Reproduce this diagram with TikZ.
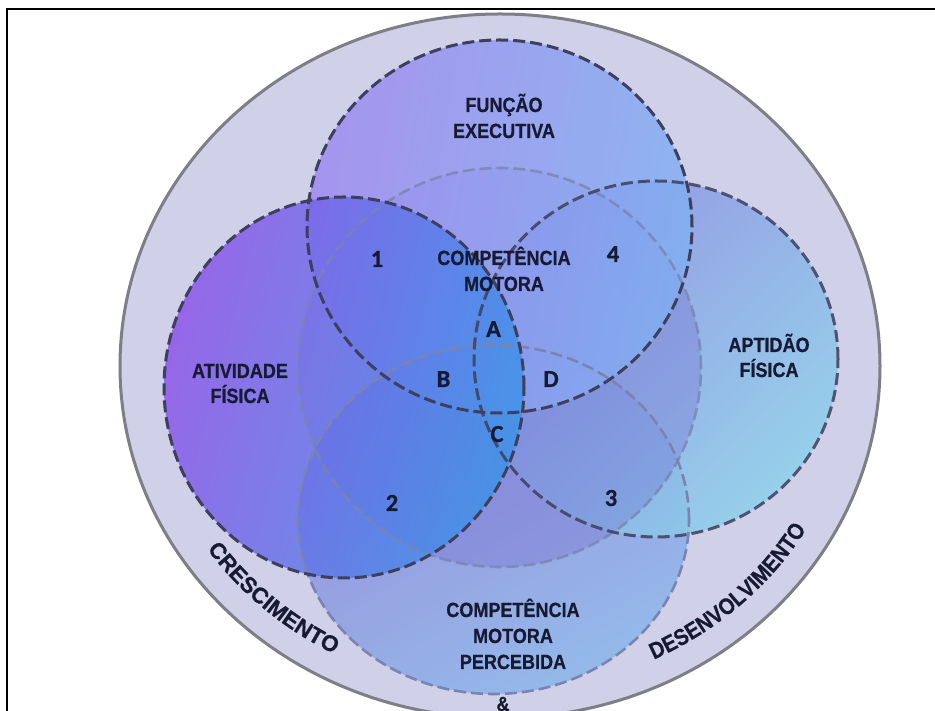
\documentclass[tikz,border=0pt]{standalone}
\usepackage{fontspec}
\setmainfont{Liberation Sans}
\newfontfamily\labelfont[FakeStretch=0.88, FakeBold=0.6]{Liberation Sans Bold}
\newfontfamily\widefont[FakeBold=0.6]{Liberation Sans Bold}
\newfontfamily\markfont[FakeBold=0.6]{Carlito Bold}
\usetikzlibrary{decorations.text}

\definecolor{ink}{HTML}{161A33}
\definecolor{ringfill}{HTML}{D0D0E9}
\definecolor{ringedge}{HTML}{7E7E86}
\definecolor{edgedark}{HTML}{3C3F5E}
\definecolor{edgesoft}{HTML}{7A84B2}
% circle gradients
\definecolor{afA}{HTML}{8A50E8}
\definecolor{afB}{HTML}{3A94E8}
\definecolor{feA}{HTML}{9C88F0}
\definecolor{feB}{HTML}{80B0F2}
\definecolor{apA}{HTML}{8A8EE4}
\definecolor{apB}{HTML}{8CD0EA}
\definecolor{cpA}{HTML}{9083DA}
\definecolor{cpB}{HTML}{8AB6EA}
\definecolor{cmfill}{HTML}{6A5CCC}

\newcommand{\ringfont}{\labelfont\fontsize{23}{23}\selectfont}
\newcommand{\ringwidefont}{\widefont\fontsize{22.5}{22.5}\selectfont}

\begin{document}
\begin{tikzpicture}[x=1pt,y=1pt,
  lbl/.style={font=\labelfont\fontsize{20.5}{26}\selectfont,
              text=ink, inner sep=0pt, anchor=base},
  zonemark/.style={font=\markfont\fontsize{24.5}{24}\selectfont,
              text=ink, inner sep=0pt, anchor=base},
  hardedge/.style={draw=edgedark, line width=3pt, dash pattern=on 12pt off 5pt},
  softedge/.style={draw=edgesoft, line width=2.6pt, dash pattern=on 12pt off 5pt},
  ringtext/.style={decorate, decoration={text along path, text align=center,
              text color=ink, text={#1}}}
]
\useasboundingbox (0,0) rectangle (935,711);
\begin{scope}
\clip (0,0) rectangle (935,711);

% outer ring
\path[fill=ringfill, draw=ringedge, line width=3pt]
  (500,345) ellipse [x radius=380pt, y radius=352pt];

% the four domains and the central one
\shade[fill opacity=0.85, top color=cpA, bottom color=cpB, shading angle=30]
  (493.5,191.5) ellipse [x radius=195.5pt, y radius=174.5pt];
\shade[fill opacity=0.85, left color=apA, right color=apB, shading angle=45]
  (656,352) ellipse [x radius=182pt, y radius=178pt];
\fill[cmfill, fill opacity=0.27]
  (499.5,343.5) ellipse [x radius=201.5pt, y radius=199.5pt];
\shade[fill opacity=0.82, left color=feA, right color=feB, shading angle=80]
  (499.5,484.5) ellipse [x radius=192.5pt, y radius=186.5pt];
\shade[fill opacity=0.82, left color=afA, right color=afB, shading angle=75]
  (344,323.5) ellipse [x radius=180pt, y radius=190.5pt];

% dashed outlines
\path[softedge, draw opacity=0.8]
  (499.5,343.5) ellipse [x radius=201.5pt, y radius=199.5pt];
\path[softedge]
  (493.5,191.5) ellipse [x radius=195.5pt, y radius=174.5pt];
\path[hardedge, draw opacity=0.85]
  (656,352) ellipse [x radius=182pt, y radius=178pt];
\path[hardedge]
  (499.5,484.5) ellipse [x radius=192.5pt, y radius=186.5pt];
\path[hardedge]
  (344,323.5) ellipse [x radius=180pt, y radius=190.5pt];

% ring captions
\path[ringtext={|\ringwidefont|CRESCIMENTO}]
  ([shift={(500,345)}]200:354pt and 326pt)
  arc [start angle=200, end angle=255.5, x radius=354pt, y radius=326pt];
\path[ringtext={|\ringfont|DESENVOLVIMENTO}]
  ([shift={(500,345)}]283:354pt and 326pt)
  arc [start angle=283, end angle=343.5, x radius=354pt, y radius=326pt];

% domain captions
\node[lbl] (fe1) at (504,599) {FUNÇÃO};
\node[lbl] (fe2) at (504,573) {EXECUTIVA};
\node[lbl] (cm1) at (504,446) {COMPETÊNCIA};
\node[lbl] (cm2) at (504,420) {MOTORA};
\node[lbl] (af1) at (240,333) {ATIVIDADE};
\node[lbl] (af2) at (240,308) {FÍSICA};
\node[lbl] (ap1) at (769,359) {APTIDÃO};
\node[lbl] (ap2) at (769,334) {FÍSICA};
\node[lbl] (cp1) at (513,94) {COMPETÊNCIA};
\node[lbl] (cp2) at (513,68) {MOTORA};
\node[lbl] (cp3) at (513,42) {PERCEBIDA};
\node[lbl] (amp) at (503,0) {\&};

% overlap markers
\node[zonemark] (z1) at (377,444) {1};
\node[zonemark] (z4) at (613,449) {4};
\node[zonemark] (z2) at (392,200) {2};
\node[zonemark] (z3) at (611,205) {3};
\node[zonemark] (zA) at (493.5,374) {A};
\node[zonemark] (zB) at (443.5,324) {B};
\node[zonemark] (zD) at (551,324) {D};
\node[zonemark] (zC) at (497,269) {C};
\end{scope}

% frame
\draw[line width=2.5pt, line cap=rect] (7,-5) -- (7,702) -- (945,702);
\end{tikzpicture}
\end{document}
